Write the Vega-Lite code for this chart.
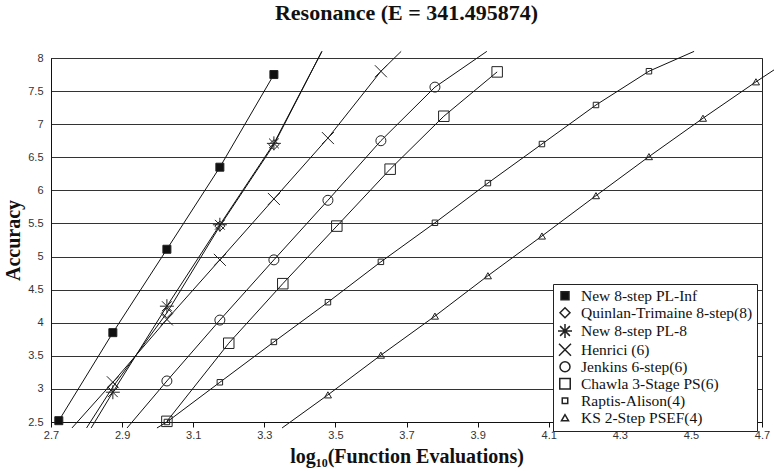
{
  "$schema": "https://vega.github.io/schema/vega-lite/v6.json",
  "width": 711,
  "height": 364,
  "autosize": {"type": "none"},
  "padding": {"left": 51, "top": 58, "right": 12, "bottom": 49},
  "background": "white",
  "title": {"text": "Resonance (E = 341.495874)", "font": "Liberation Serif", "fontSize": 22, "fontWeight": "bold", "color": "#111", "anchor": "middle", "offset": 24},
  "config": {
    "view": {"stroke": "#222", "strokeWidth": 1},
    "axis": {"labelFont": "Liberation Sans", "labelFontSize": 11, "labelColor": "#333", "titleFont": "Liberation Serif", "titleFontSize": 20, "titleFontWeight": "bold", "titleColor": "#111", "domainColor": "#111", "tickColor": "#111"},
    "legend": {"orient": "none", "legendX": 502, "legendY": 226, "padding": 4, "strokeColor": "#222", "fillColor": "white",
      "labelFont": "Liberation Serif", "labelFontSize": 15.5, "labelColor": "#111", "labelOffset": 8, "rowPadding": -1, "labelLimit": 400}
  },
  "data": {"values": [
    {"s": "New 8-step PL-Inf", "k": "p", "x": 2.722, "y": 2.52},
    {"s": "New 8-step PL-Inf", "k": "p", "x": 2.874, "y": 3.85},
    {"s": "New 8-step PL-Inf", "k": "p", "x": 3.026, "y": 5.11},
    {"s": "New 8-step PL-Inf", "k": "p", "x": 3.175, "y": 6.35},
    {"s": "New 8-step PL-Inf", "k": "p", "x": 3.327, "y": 7.75},
    {"s": "Quinlan-Trimaine 8-step(8)", "k": "e", "x": 2.8, "y": 2.41},
    {"s": "Quinlan-Trimaine 8-step(8)", "k": "p", "x": 2.874, "y": 3.03},
    {"s": "Quinlan-Trimaine 8-step(8)", "k": "p", "x": 3.026, "y": 4.15},
    {"s": "Quinlan-Trimaine 8-step(8)", "k": "p", "x": 3.175, "y": 5.46},
    {"s": "Quinlan-Trimaine 8-step(8)", "k": "p", "x": 3.327, "y": 6.69},
    {"s": "Quinlan-Trimaine 8-step(8)", "k": "e", "x": 3.462, "y": 8.1},
    {"s": "New 8-step PL-8", "k": "e", "x": 2.813, "y": 2.41},
    {"s": "New 8-step PL-8", "k": "p", "x": 2.874, "y": 2.95},
    {"s": "New 8-step PL-8", "k": "p", "x": 3.026, "y": 4.25},
    {"s": "New 8-step PL-8", "k": "p", "x": 3.175, "y": 5.48},
    {"s": "New 8-step PL-8", "k": "p", "x": 3.327, "y": 6.71},
    {"s": "New 8-step PL-8", "k": "e", "x": 3.462, "y": 8.1},
    {"s": "Henrici (6)", "k": "e", "x": 2.759, "y": 2.41},
    {"s": "Henrici (6)", "k": "p", "x": 2.874, "y": 3.1},
    {"s": "Henrici (6)", "k": "p", "x": 3.026, "y": 4.05},
    {"s": "Henrici (6)", "k": "p", "x": 3.175, "y": 4.95},
    {"s": "Henrici (6)", "k": "p", "x": 3.327, "y": 5.87},
    {"s": "Henrici (6)", "k": "p", "x": 3.479, "y": 6.79},
    {"s": "Henrici (6)", "k": "p", "x": 3.628, "y": 7.8},
    {"s": "Henrici (6)", "k": "e", "x": 3.685, "y": 8.1},
    {"s": "Jenkins 6-step(6)", "k": "e", "x": 2.914, "y": 2.41},
    {"s": "Jenkins 6-step(6)", "k": "p", "x": 3.026, "y": 3.12},
    {"s": "Jenkins 6-step(6)", "k": "p", "x": 3.175, "y": 4.04},
    {"s": "Jenkins 6-step(6)", "k": "p", "x": 3.327, "y": 4.95},
    {"s": "Jenkins 6-step(6)", "k": "p", "x": 3.479, "y": 5.85},
    {"s": "Jenkins 6-step(6)", "k": "p", "x": 3.628, "y": 6.75},
    {"s": "Jenkins 6-step(6)", "k": "p", "x": 3.78, "y": 7.56},
    {"s": "Jenkins 6-step(6)", "k": "e", "x": 3.926, "y": 8.1},
    {"s": "Chawla 3-Stage PS(6)", "k": "p", "x": 3.026, "y": 2.51},
    {"s": "Chawla 3-Stage PS(6)", "k": "p", "x": 3.2, "y": 3.69},
    {"s": "Chawla 3-Stage PS(6)", "k": "p", "x": 3.352, "y": 4.59},
    {"s": "Chawla 3-Stage PS(6)", "k": "p", "x": 3.504, "y": 5.46},
    {"s": "Chawla 3-Stage PS(6)", "k": "p", "x": 3.654, "y": 6.32},
    {"s": "Chawla 3-Stage PS(6)", "k": "p", "x": 3.805, "y": 7.12},
    {"s": "Chawla 3-Stage PS(6)", "k": "p", "x": 3.955, "y": 7.79},
    {"s": "Raptis-Alison(4)", "k": "e", "x": 2.998, "y": 2.41},
    {"s": "Raptis-Alison(4)", "k": "p", "x": 3.026, "y": 2.5},
    {"s": "Raptis-Alison(4)", "k": "p", "x": 3.175, "y": 3.1},
    {"s": "Raptis-Alison(4)", "k": "p", "x": 3.327, "y": 3.71},
    {"s": "Raptis-Alison(4)", "k": "p", "x": 3.479, "y": 4.31},
    {"s": "Raptis-Alison(4)", "k": "p", "x": 3.628, "y": 4.92},
    {"s": "Raptis-Alison(4)", "k": "p", "x": 3.78, "y": 5.51},
    {"s": "Raptis-Alison(4)", "k": "p", "x": 3.929, "y": 6.11},
    {"s": "Raptis-Alison(4)", "k": "p", "x": 4.081, "y": 6.7},
    {"s": "Raptis-Alison(4)", "k": "p", "x": 4.233, "y": 7.29},
    {"s": "Raptis-Alison(4)", "k": "p", "x": 4.382, "y": 7.8},
    {"s": "Raptis-Alison(4)", "k": "e", "x": 4.509, "y": 8.1},
    {"s": "KS 2-Step PSEF(4)", "k": "e", "x": 3.35, "y": 2.41},
    {"s": "KS 2-Step PSEF(4)", "k": "p", "x": 3.479, "y": 2.91},
    {"s": "KS 2-Step PSEF(4)", "k": "p", "x": 3.628, "y": 3.51},
    {"s": "KS 2-Step PSEF(4)", "k": "p", "x": 3.78, "y": 4.1},
    {"s": "KS 2-Step PSEF(4)", "k": "p", "x": 3.929, "y": 4.71},
    {"s": "KS 2-Step PSEF(4)", "k": "p", "x": 4.081, "y": 5.31},
    {"s": "KS 2-Step PSEF(4)", "k": "p", "x": 4.233, "y": 5.92},
    {"s": "KS 2-Step PSEF(4)", "k": "p", "x": 4.382, "y": 6.51},
    {"s": "KS 2-Step PSEF(4)", "k": "p", "x": 4.534, "y": 7.09},
    {"s": "KS 2-Step PSEF(4)", "k": "p", "x": 4.683, "y": 7.64},
    {"s": "KS 2-Step PSEF(4)", "k": "e", "x": 4.745, "y": 7.86}
  ]},
  "encoding": {
    "x": {"field": "x", "type": "quantitative", "scale": {"domain": [2.7, 4.7], "nice": false, "zero": false},
      "axis": {"title": "log₁₀(Function Evaluations)", "values": [2.7, 2.9, 3.1, 3.3, 3.5, 3.7, 3.9, 4.1, 4.3, 4.5, 4.7], "format": ".1f", "grid": false, "tickSize": 5, "labelPadding": 2, "titlePadding": 6, "labelFlush": false, "labelOverlap": false}},
    "y": {"field": "y", "type": "quantitative", "scale": {"domain": [2.5, 8], "nice": false, "zero": false},
      "axis": {"title": "Accuracy", "values": [2.5, 3, 3.5, 4, 4.5, 5, 5.5, 6, 6.5, 7, 7.5, 8], "format": "~g", "grid": true, "gridColor": "#333", "gridWidth": 1, "gridOpacity": 1, "ticks": false, "labelPadding": 8, "titlePadding": 4, "labelFlush": false, "labelOverlap": false}}
  },
  "layer": [
    {
      "mark": {"type": "line", "color": "#111", "strokeWidth": 1, "clip": false},
      "encoding": {"detail": {"field": "s", "type": "nominal"}, "order": {"field": "x", "type": "quantitative"}}
    },
    {
      "transform": [{"filter": "datum.k === 'p'"}],
      "mark": {"type": "point", "filled": true, "strokeWidth": 1, "opacity": 1, "stroke": "#222", "clip": false},
      "encoding": {
        "shape": {"field": "s", "type": "nominal",
          "scale": {"domain": ["New 8-step PL-Inf", "Quinlan-Trimaine 8-step(8)", "New 8-step PL-8", "Henrici (6)", "Jenkins 6-step(6)", "Chawla 3-Stage PS(6)", "Raptis-Alison(4)", "KS 2-Step PSEF(4)"],
            "range": ["square", "diamond", "M-1,0H1M0,-1V1M-0.7,-0.7L0.7,0.7M-0.7,0.7L0.7,-0.7", "M-1,-1L1,1M-1,1L1,-1", "circle", "square", "square", "triangle-up"]},
          "legend": {"title": null, "encode": {"symbols": {"stroke": {"value": "#111"}, "strokeWidth": {"value": 1}, "opacity": {"value": 1}}}}},
        "fill": {"field": "s", "type": "nominal",
          "scale": {"domain": ["New 8-step PL-Inf", "Quinlan-Trimaine 8-step(8)", "New 8-step PL-8", "Henrici (6)", "Jenkins 6-step(6)", "Chawla 3-Stage PS(6)", "Raptis-Alison(4)", "KS 2-Step PSEF(4)"],
            "range": ["#111", "transparent", "transparent", "transparent", "transparent", "transparent", "transparent", "transparent"]},
          "legend": {"title": null, "encode": {"symbols": {"stroke": {"value": "#111"}, "strokeWidth": {"value": 1}, "opacity": {"value": 1}}}}},
        "size": {"field": "s", "type": "nominal",
          "scale": {"type": "ordinal", "domain": ["New 8-step PL-Inf", "Quinlan-Trimaine 8-step(8)", "New 8-step PL-8", "Henrici (6)", "Jenkins 6-step(6)", "Chawla 3-Stage PS(6)", "Raptis-Alison(4)", "KS 2-Step PSEF(4)"],
            "range": [64, 100, 196, 144, 100, 110, 30, 50]},
          "legend": {"title": null, "encode": {"symbols": {"stroke": {"value": "#111"}, "strokeWidth": {"value": 1}, "opacity": {"value": 1}}}}}
      }
    }
  ]
}
